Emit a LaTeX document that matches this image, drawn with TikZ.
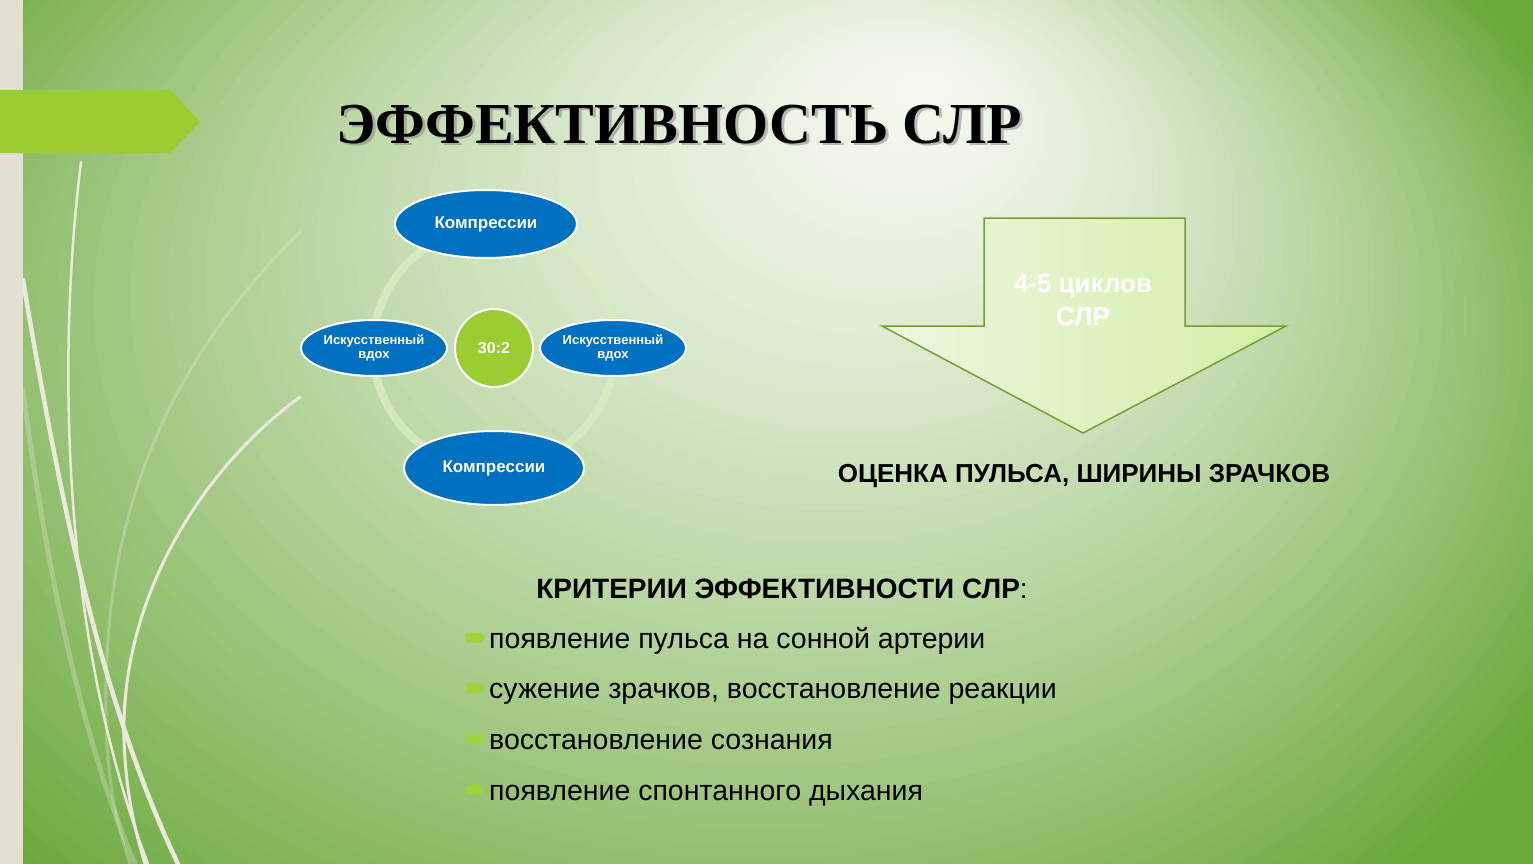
\documentclass[tikz,border=0pt]{standalone}
\usepackage{fontspec}
\setmainfont{Liberation Sans}
\newfontfamily\titlefont{Liberation Serif}
\usetikzlibrary{shapes.geometric}

\definecolor{bgdark}{RGB}{106,168,58}
\definecolor{bglight}{RGB}{245,249,240}
\definecolor{stripbeige}{RGB}{228,224,209}
\definecolor{strandbeige}{RGB}{236,233,220}
\definecolor{tabgreen}{RGB}{154,205,50}
\definecolor{bulletgreen}{RGB}{160,210,60}
\definecolor{cycleblue}{RGB}{0,112,192}
\definecolor{ringgreen}{RGB}{216,236,194}
\definecolor{arrowline}{RGB}{112,160,50}
\definecolor{arrowlight}{RGB}{236,247,224}
\definecolor{arrowfill}{RGB}{212,238,166}

\begin{document}
\begin{tikzpicture}[x=1pt,y=-1pt,
 blob/.style={ellipse,draw=white,line width=2pt,fill=cycleblue,text=white,inner sep=0pt,align=center},
 critline/.style={anchor=base west,inner sep=0pt,font=\fontsize{28.5}{30}\selectfont},
 strand/.style={draw=strandbeige,line cap=round}]
\useasboundingbox (0,0) rectangle (1533,864);
% фон: светлое пятно над заголовком
\fill[bgdark] (0,0) rectangle (1533,864);
\begin{scope}
 \clip (0,0) rectangle (1533,864);
 \foreach \i [evaluate=\i as \t using 1-\i/64, evaluate=\i as \p using 100*(1-\i/64)^1.35] in {0,...,63}
 \fill[bgdark!\p!bglight] (930-230*\t,80+320*\t) ellipse [x radius=960*\t pt,y radius=700*\t pt];
\end{scope}
\fill[stripbeige] (0,0) rectangle (23,864);
% линии слева
\begin{scope}
 \clip (23,0) rectangle (420,864);
 \draw[strand,line width=5pt,opacity=.3] (23,390) .. controls (50,600) and (90,760) .. (135,864);
 \draw[strand,line width=3pt,opacity=.3] (300,232) .. controls (200,330) and (120,460) .. (108,640) .. controls (100,760) and (115,820) .. (130,864);
 \draw[strand,line width=2.5pt] (81,162) .. controls (60,330) and (55,620) .. (148,864);
 \draw[strand,line width=4.5pt] (23,280) .. controls (60,500) and (100,700) .. (178,864);
 \draw[strand,line width=3pt] (300,397) .. controls (200,470) and (120,600) .. (124,740) .. controls (126,800) and (138,840) .. (145,864);
\end{scope}
\fill[tabgreen] (0,90) -- (170,90) -- (200,122) -- (170,153) -- (0,153) -- cycle;

% заголовок
\node[font=\titlefont\bfseries\fontsize{58}{60}\selectfont,text=black!50,opacity=.5,anchor=base] at (682,146) {ЭФФЕКТИВНОСТЬ СЛР};
\node[font=\titlefont\bfseries\fontsize{58}{60}\selectfont,anchor=base] (title) at (679,143) {ЭФФЕКТИВНОСТЬ СЛР};

% цикл
\coordinate (hub) at (494,348);
\draw[ringgreen,line width=8pt,opacity=.85] (hub) circle [radius=121pt];
\node[circle,minimum size=78pt,inner sep=0pt,fill=tabgreen,draw=white,line width=2pt,text=white,font=\bfseries\fontsize{16}{18}\selectfont] (ratio) at (hub) {30:2};
\node[blob,minimum width=182pt,minimum height=68pt,font=\bfseries\fontsize{17}{20}\selectfont] (kompTop) at (486,224) {Компрессии};
\node[blob,minimum width=146pt,minimum height=56pt,font=\bfseries\fontsize{13}{13.5}\selectfont] (vdohLeft) at (374,348) {Искусственный\\вдох};
\node[blob,minimum width=146pt,minimum height=56pt,font=\bfseries\fontsize{13}{13.5}\selectfont] (vdohRight) at (613,348) {Искусственный\\вдох};
\node[blob,minimum width=180pt,minimum height=74pt,font=\bfseries\fontsize{17}{20}\selectfont] (kompBottom) at (494,468) {Компрессии};

% стрелка
\draw[arrowline,line width=1.5pt,left color=arrowlight,right color=arrowfill] (984,218) -- (1185,218) -- (1185,326) -- (1286,326) -- (1083,433) -- (882,326) -- (984,326) -- cycle;
\node[text=white,align=center,font=\bfseries\fontsize{26}{33}\selectfont] (cycles) at (1083,300) {4-5 циклов\\СЛР};
\node[anchor=base,font=\bfseries\fontsize{26}{28}\selectfont] (assess) at (1084,482) {ОЦЕНКА ПУЛЬСА, ШИРИНЫ ЗРАЧКОВ};

% критерии
\node[anchor=base,font=\bfseries\fontsize{28}{30}\selectfont] (critHead) at (782,598) {КРИТЕРИИ ЭФФЕКТИВНОСТИ СЛР\textmd{:}};
\foreach \t [count=\i, evaluate=\i as \yb using 648+50.7*(\i-1)] in {появление пульса на сонной артерии,{сужение зрачков, восстановление реакции},восстановление сознания,появление спонтанного дыхания}{
 \fill[bulletgreen,rounded corners=1.5pt] (466,\yb-15.5) -- (480,\yb-15.5) -- (485.5,\yb-10.5) -- (480,\yb-5.5) -- (466,\yb-5.5) -- cycle;
 \node[critline] (crit\i) at (489,\yb) {\t};
}
\end{tikzpicture}
\end{document}
